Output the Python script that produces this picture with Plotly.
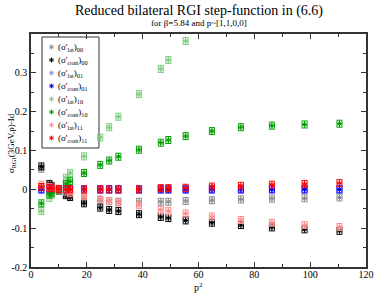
import plotly.graph_objects as go

p2 = [3.7, 6.6, 7.4, 10.0, 12.5, 14.0, 19.0, 24.8, 28.0, 31.3, 38.7, 46.5, 49.2, 55.4, 64.8, 75.2, 86.3, 98.0, 110.5]

lat00 = [0.053, 0.012, 0.006, -0.002, -0.012, -0.016, -0.024, -0.028, -0.030, -0.032, -0.032, -0.032, -0.032, -0.030, -0.028, -0.026, -0.024, -0.023, -0.021]
cont00 = [0.059, 0.014, 0.008, -0.003, -0.015, -0.020, -0.036, -0.047, -0.053, -0.056, -0.064, -0.071, -0.074, -0.080, -0.086, -0.092, -0.098, -0.103, -0.107]
lat01 = [-0.001, -0.001, -0.001, -0.001, -0.001, -0.001, -0.001, -0.001, -0.001, -0.001, -0.001, -0.001, -0.001, -0.001, -0.001, -0.001, -0.001, -0.001, -0.001]
cont01 = [0.0, 0.0, 0.0, 0.0, 0.0, 0.0, 0.0, 0.0, 0.0, 0.0, 0.0, 0.0, 0.0, 0.0, 0.0, 0.0, 0.0, 0.0, 0.0]
lat10 = [-0.056, -0.022, -0.015, 0.0, 0.030, 0.042, 0.085, 0.133, 0.160, 0.187, 0.245, 0.310, 0.333, 0.382, None, None, None, None, None]
cont10 = [-0.036, -0.013, -0.010, -0.002, 0.014, 0.021, 0.042, 0.063, 0.074, 0.084, 0.102, 0.120, 0.127, 0.137, 0.150, 0.160, 0.164, 0.167, 0.169]
lat11 = [0.012, 0.006, 0.004, 0.0, -0.006, -0.010, -0.017, -0.026, -0.030, -0.034, -0.041, -0.053, -0.056, -0.062, -0.070, -0.079, -0.086, -0.092, -0.097]
cont11 = [0.006, 0.004, 0.003, 0.001, 0.0, 0.0, 0.0, 0.0, 0.0, 0.0, 0.0, 0.003, 0.003, 0.004, 0.007, 0.009, 0.012, 0.014, 0.016]

names = ["(σ'<sub>lat</sub>)<sub>00</sub>", "(σ'<sub>cont</sub>)<sub>00</sub>",
         "(σ'<sub>lat</sub>)<sub>01</sub>", "(σ'<sub>cont</sub>)<sub>01</sub>",
         "(σ'<sub>lat</sub>)<sub>10</sub>", "(σ'<sub>cont</sub>)<sub>10</sub>",
         "(σ'<sub>lat</sub>)<sub>11</sub>", "(σ'<sub>cont</sub>)<sub>11</sub>"]
series = [lat00, cont00, lat01, cont01, lat10, cont10, lat11, cont11]
colors = ["#8c8c8c", "#000000", "#8c8cff", "#0000ff", "#7fcc7f", "#00a000", "#ff8c8c", "#ff0000"]

W, H = 374, 293
PL, PR, PT, PB = 31, 366, 34, 267  # plot area in page pixels
L, T, R, B = PL, PT, W - PR, H - PB
pw, ph = W - L - R, H - T - B
def px(x):
    return (x - PL) / pw
def py(y):
    return 1 - (y - PT) / ph

font = "Liberation Serif"

fig = go.Figure()
for nm, ys, c in zip(names, series, colors):
    fig.add_trace(go.Scatter(
        x=p2, y=ys, name=nm, mode="markers", showlegend=False,
        marker=dict(symbol="asterisk-open", size=4, color=c, line=dict(color=c, width=1)),
        error_x=dict(type="constant", value=0.9, color=c, thickness=1, width=3),
        error_y=dict(type="constant", value=0.009, color=c, thickness=1, width=3),
    ))

# manual legend (box, symbols, labels)
leg_rows = [47 + 13 * i for i in range(8)]
fig.add_trace(go.Scatter(
    x=[px(51.5)] * 8, y=[py(r) for r in leg_rows], xaxis="x2", yaxis="y2",
    mode="markers", showlegend=False, hoverinfo="skip",
    marker=dict(symbol="asterisk-open", size=4, color=colors, line=dict(color=colors, width=1)),
))
shapes = [dict(type="rect", xref="paper", yref="paper", x0=px(42), x1=px(99), y0=py(148), y1=py(37),
               line=dict(color="#333", width=1), fillcolor="white", layer="below")]
annotations = []
for nm, r in zip(names, leg_rows):
    annotations.append(dict(text=nm, x=px(56), y=py(r), xref="paper", yref="paper",
                            xanchor="left", yanchor="middle", showarrow=False,
                            font=dict(family=font, size=9, color="#000")))

axis_common = dict(showline=True, linecolor="#333", linewidth=1.5, mirror="allticks",
                   ticks="inside", ticklen=5, tickcolor="#333", tickwidth=1,
                   showgrid=False, zeroline=False, automargin=False,
                   tickfont=dict(family=font, size=10, color="#000"))
fig.update_xaxes(range=[0, 120], dtick=20, ticklabelstandoff=-3,
                 minor=dict(ticks="inside", ticklen=3, dtick=10, tickcolor="#333"),
                 **axis_common)
fig.update_yaxes(range=[-0.2, 0.4], tickvals=[-0.2, -0.1, 0, 0.1, 0.2, 0.3, 0.4],
                 ticktext=["-0.2", "-0.1", "0", "0.1", "0.2", "0.3", ""],
                 minor=dict(ticks="inside", ticklen=3, tickvals=[-0.15, -0.05, 0.05, 0.15, 0.25, 0.35], tickcolor="#333"),
                 **axis_common)

annotations += [
    dict(text="Reduced bilateral RGI step-function in (6.6)",
         x=px(199), y=py(11), xref="paper", yref="paper", xanchor="center", yanchor="middle",
         showarrow=False, font=dict(family=font, size=14, color="#000")),
    dict(text="for β=5.84 and p~[1,1,0,0]",
         x=px(199), y=py(23), xref="paper", yref="paper", xanchor="center", yanchor="middle",
         showarrow=False, font=dict(family=font, size=9, color="#000")),
    dict(text="p<sup>2</sup>", x=px(198), y=py(287), xref="paper", yref="paper",
         xanchor="center", yanchor="middle", showarrow=False,
         font=dict(family=font, size=10, color="#000")),
    dict(text="σ<sub>RGI</sub>(3GeV,p)-Id", x=px(11), y=py(143), xref="paper", yref="paper",
         xanchor="center", yanchor="middle", textangle=-90, showarrow=False,
         font=dict(family=font, size=9, color="#000")),
]

fig.update_layout(
    width=W, height=H,
    margin=dict(l=L, r=R, t=T, b=B),
    plot_bgcolor="white", paper_bgcolor="white",
    showlegend=False,
    xaxis2=dict(range=[0, 1], overlaying="x", visible=False, fixedrange=True),
    yaxis2=dict(range=[0, 1], overlaying="y", visible=False, fixedrange=True),
    shapes=shapes,
    annotations=annotations,
)

fig.write_html("out.html", config={"displayModeBar": False},
               post_script="document.body.style.margin='0';document.body.style.overflow='hidden';")
